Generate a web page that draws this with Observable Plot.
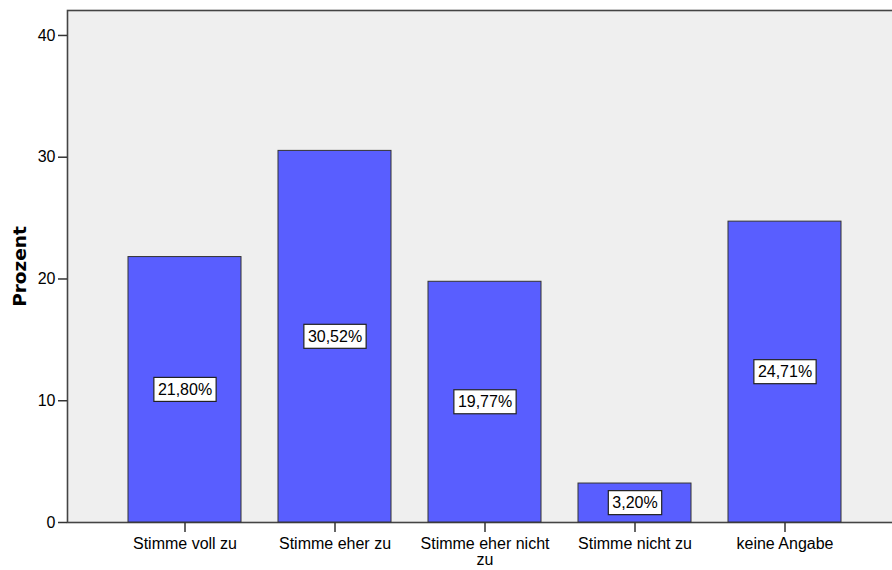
<!DOCTYPE html>
<html><head><meta charset="utf-8">
<script src="https://cdn.jsdelivr.net/npm/d3@7"></script>
<script src="https://cdn.jsdelivr.net/npm/@observablehq/plot@0.6"></script>
<style>
body{margin:0;background:#fff;}
#chart svg{overflow:hidden;}
g[aria-label="y-axis label"] text{font-weight:bold;font-size:18.5px;font-family:'DejaVu Sans',sans-serif;}
</style>
</head><body><div id="chart"></div>
<script>
const categories = ["Stimme voll zu","Stimme eher zu","Stimme eher nicht zu","Stimme nicht zu","keine Angabe"];
const tickLabels = ["Stimme voll zu","Stimme eher zu","Stimme eher nicht\nzu","Stimme nicht zu","keine Angabe"];
const percentages = [21.80, 30.52, 19.77, 3.20, 24.71];
const yTicks = [0, 10, 20, 30, 40];
const yLabel = "Prozent";

const data = categories.map((c, i) => ({category: c, value: percentages[i]}));
const fmt = v => v.toFixed(2).replace(".", ",") + "%";

const chart = Plot.plot({
  width: 892, height: 570,
  marginTop: 10, marginBottom: 48, marginLeft: 67, marginRight: 0,
  style: {fontFamily: "'Liberation Sans', Arial, sans-serif", fontSize: "16px", background: "#fff", color: "#000"},
  x: {domain: categories, range: [67, 901], paddingInner: 0.25, paddingOuter: 0.395},
  y: {domain: [0, 42.05]},
  marks: [
    Plot.frame({fill: "#efefef", stroke: "#444", strokeWidth: 1.6, insetRight: -4}),
    Plot.barY(data, {x: "category", y: "value", fill: "#595eff", stroke: "#333", strokeWidth: 1}),
    Plot.text(data, {x: "category", y: d => d.value / 2, text: d => fmt(d.value), fill: "#000", fontSize: 16}),
    Plot.axisY({ticks: yTicks, tickSize: 9, tickPadding: 3, label: yLabel, labelArrow: "none", labelAnchor: "center", labelOffset: 55, stroke: "#333", strokeWidth: 1.5, fontSize: 16}),
    Plot.axisX({tickSize: 10, tickPadding: 5, label: null, stroke: "#333", strokeWidth: 1.5, fontSize: 16,
      tickFormat: d => tickLabels[categories.indexOf(d)]})
  ]
});
document.getElementById("chart").append(chart);

// white boxes behind value labels
const g = chart.querySelector('g[aria-label="text"]');
if (g) {
  g.querySelectorAll("text").forEach(t => {
    const b = t.getBBox();
    const r = document.createElementNS("http://www.w3.org/2000/svg", "rect");
    const padX = 4, h = 24;
    r.setAttribute("x", b.x - padX);
    r.setAttribute("y", b.y + b.height / 2 - h / 2);
    r.setAttribute("width", b.width + 2 * padX);
    r.setAttribute("height", h);
    r.setAttribute("fill", "#fff");
    r.setAttribute("stroke", "#222");
    r.setAttribute("stroke-width", "1.2");
    const tr = t.getAttribute("transform");
    if (tr) r.setAttribute("transform", tr);
    t.parentNode.insertBefore(r, t);
  });
}
</script>
</body></html>
